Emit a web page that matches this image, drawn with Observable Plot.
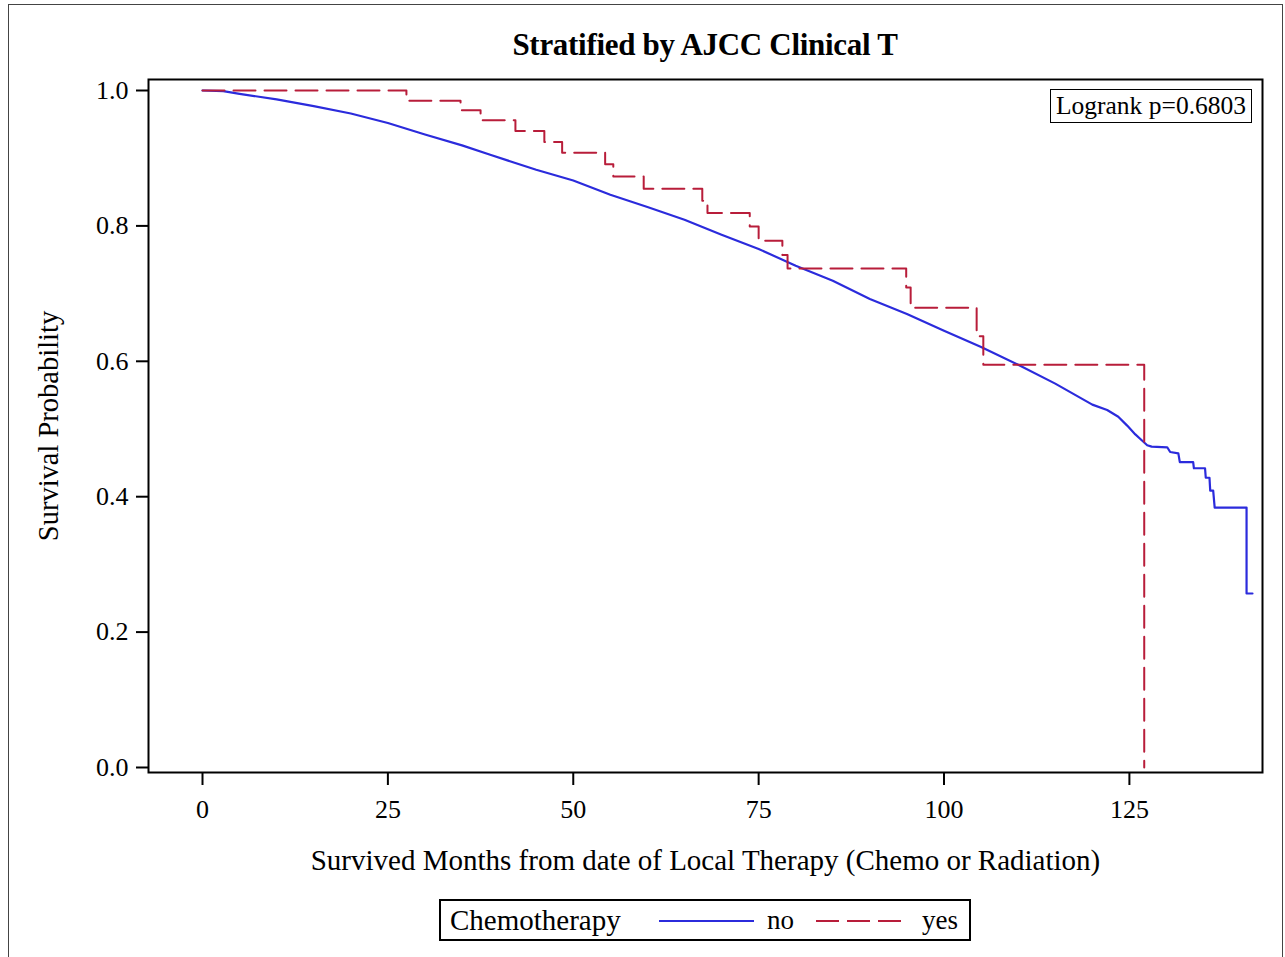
<!DOCTYPE html>
<html>
<head>
<meta charset="utf-8">
<script src="https://cdn.jsdelivr.net/npm/d3@7"></script>
<script src="https://cdn.jsdelivr.net/npm/@observablehq/plot@0.6"></script>
<style>
  html, body { margin: 0; padding: 0; background: #fff; }
  #page { position: relative; width: 1285px; height: 957px; overflow: hidden; font-family: "Liberation Serif", "DejaVu Serif", serif; color: #000; }
  #outer { position: absolute; left: 8px; top: 4px; width: 1273px; height: 1000px; border: 1.5px solid #444; }
  #title { position: absolute; left: 148px; width: 1114px; top: 25px; height: 40px; line-height: 40px; text-align: center; font-weight: bold; font-size: 31px; letter-spacing: -0.3px; }
  #chart { position: absolute; left: 0; top: 60px; }
  #chart svg text { font-family: "Liberation Serif", serif; fill: #000; }
  #chart svg [aria-label="x-axis label"] text { font-size: 29px; }
  #chart svg [aria-label="y-axis label"] text { font-size: 28.5px; }
  #logrank { position: absolute; left: 1050px; top: 89px; width: 200px; height: 32px; border: 1.5px solid #000; font-size: 25.5px; line-height: 32px; text-align: center; background: #fff; }
  #legend { position: absolute; left: 439px; top: 899px; width: 528px; height: 38px; border: 2px solid #000; font-size: 27px; line-height: 38px; white-space: nowrap; }
  #legend span, #legend svg { position: absolute; }
</style>
</head>
<body>
<div id="page">
  <div id="outer"></div>
  <div id="title">Stratified by AJCC Clinical T</div>
  <div id="chart"></div>
  <div id="logrank">Logrank p=0.6803</div>
  <div id="legend"></div>
</div>
<script>
// ---- Data ----
const seriesNames = ["no", "yes"];
const legendTitle = "Chemotherapy";
const colors = {no: "#2b2bdc", yes: "#b81d3a"};

// Chemotherapy = no (Kaplan-Meier, many small steps; tail corners explicit)
const noMonths = [0, 2.8, 5, 10, 15, 20, 25, 30, 35, 38.8, 45, 50, 55, 60, 65, 70, 75, 80, 85, 90, 95, 100, 105, 110, 115, 120, 122, 123.5, 124.7, 125.8, 126.7, 127.4, 128.0, 130.1, 130.5, 131.6, 131.8, 133.6, 133.7, 135.2, 135.3, 135.8, 135.9, 136.3, 136.5, 140.8, 140.8, 141.6];
const noSurv   = [1.000, 0.999, 0.995, 0.987, 0.977, 0.966, 0.952, 0.935, 0.919, 0.905, 0.883, 0.867, 0.846, 0.828, 0.809, 0.787, 0.766, 0.741, 0.719, 0.692, 0.670, 0.645, 0.621, 0.595, 0.567, 0.536, 0.528, 0.518, 0.505, 0.492, 0.483, 0.476, 0.474, 0.473, 0.466, 0.464, 0.451, 0.451, 0.442, 0.442, 0.428, 0.428, 0.409, 0.409, 0.384, 0.384, 0.257, 0.257];

// Chemotherapy = yes (step function: value from this month onward)
const yesMonths = [0, 27.5, 34.8, 37.5, 42.2, 46.1, 48.5, 54.3, 55.4, 59.5, 67.4, 68.1, 73.8, 75.0, 78.2, 78.9, 94.9, 95.5, 104.4, 105.3, 127.0];
const yesSurv   = [1.000, 0.985, 0.971, 0.956, 0.940, 0.924, 0.908, 0.891, 0.873, 0.855, 0.837, 0.819, 0.799, 0.778, 0.757, 0.737, 0.709, 0.679, 0.637, 0.595, 0.0];

const xTicks = [0, 25, 50, 75, 100, 125];
const yTicks = [0.0, 0.2, 0.4, 0.6, 0.8, 1.0];
const xLabel = "Survived Months from date of Local Therapy (Chemo or Radiation)";
const yLabel = "Survival Probability";

// ---- Build tables ----
const noData = noMonths.map((t, i) => ({t, s: noSurv[i]}));
const yesData = yesMonths.map((t, i) => ({t, s: yesSurv[i]}));

const chart = Plot.plot({
  width: 1285,
  height: 830,
  marginLeft: 148,
  marginRight: 23,
  marginTop: 19,
  marginBottom: 118,
  style: {fontFamily: "Liberation Serif, serif", fontSize: "26px", color: "#000", background: "transparent"},
  x: {domain: [-7.283, 142.95]},
  y: {domain: [-0.00739, 1.01625]},
  marks: [
    Plot.line(noData, {x: "t", y: "s", stroke: colors.no, strokeWidth: 2.2}),
    Plot.line(yesData, {x: "t", y: "s", curve: "step-after", stroke: colors.yes, strokeWidth: 2, strokeDasharray: "22,9"}),
    Plot.frame({stroke: "#000", strokeWidth: 2}),
    Plot.axisX({ticks: xTicks, tickFormat: d => String(d), tickSize: 13, tickPadding: 14, strokeWidth: 2,
                fontSize: 26, label: xLabel, labelAnchor: "center", labelOffset: 97, labelArrow: "none"}),
    Plot.axisY({ticks: yTicks, tickFormat: d3.format(".1f"), tickSize: 12, tickPadding: 8, strokeWidth: 2,
                fontSize: 26, label: yLabel, labelAnchor: "center", labelOffset: 111, labelArrow: "none"})
  ]
});
document.getElementById("chart").appendChild(chart);

// ---- Legend (HTML below the SVG) ----
const legend = document.getElementById("legend");
const ttl = document.createElement("span");
ttl.textContent = legendTitle;
ttl.style.left = "9px";
ttl.style.fontSize = "29px";
legend.appendChild(ttl);
function sample(x, w, color, dash) {
  const ns = "http://www.w3.org/2000/svg";
  const svg = document.createElementNS(ns, "svg");
  svg.setAttribute("width", w); svg.setAttribute("height", 38);
  svg.style.left = x + "px"; svg.style.top = "0px";
  const ln = document.createElementNS(ns, "line");
  ln.setAttribute("x1", 0); ln.setAttribute("x2", w);
  ln.setAttribute("y1", 20); ln.setAttribute("y2", 20);
  ln.setAttribute("stroke", color); ln.setAttribute("stroke-width", 2);
  if (dash) ln.setAttribute("stroke-dasharray", dash);
  svg.appendChild(ln);
  legend.appendChild(svg);
}
function label(x, text) {
  const s = document.createElement("span");
  s.textContent = text; s.style.left = x + "px";
  legend.appendChild(s);
}
sample(218, 95, colors.no, null);
label(326, seriesNames[0]);
sample(375, 90, colors.yes, "23,8");
label(481, seriesNames[1]);
</script>
</body>
</html>
